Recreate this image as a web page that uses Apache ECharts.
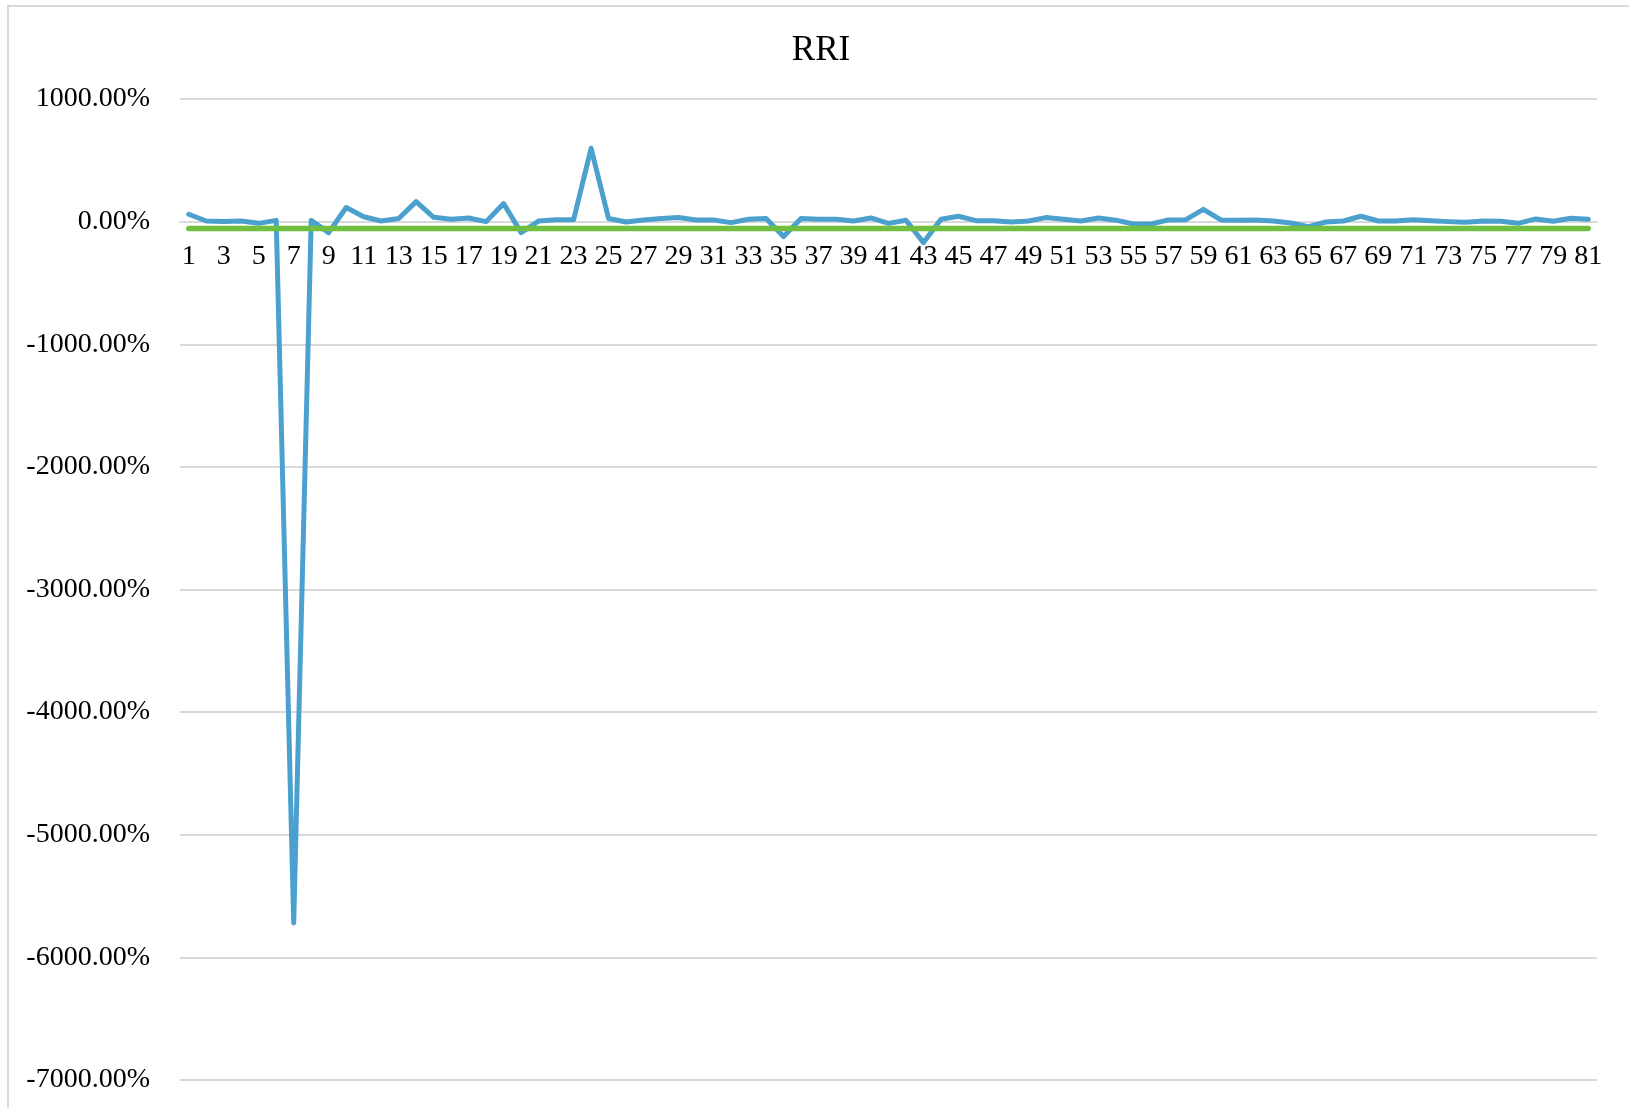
<!DOCTYPE html>
<html>
<head>
<meta charset="utf-8">
<script src="https://cdn.jsdelivr.net/npm/echarts@6/dist/echarts.min.js"></script>
<style>
html,body{margin:0;padding:0;background:#fff;}
#chart{width:1629px;height:1108px;}
</style>
</head>
<body>
<div id="chart"></div>
<script>
const titleText = 'RRI';
const categories = [];
for (let i = 1; i <= 81; i++) categories.push(String(i));

// RRI values in percent
const rriValues = [
  60, 5, 2, 5, -14, 10, -5720, 10, -90, 115,
  40, 5, 25, 163, 35, 19, 30, 0, 147, -90,
  5, 16, 16, 598, 25, -3, 14, 25, 33, 14,
  14, -8, 19, 25, -122, 25, 19, 19, 5, 30,
  -14, 11, -171, 19, 44, 8, 8, -3, 5, 33,
  19, 5, 30, 12, -19, -19, 14, 16, 100, 14,
  11, 14, 5, -11, -41, -3, 5, 44, 5, 5,
  16, 8, 0, -5, 5, 3, -14, 22, 3, 27,
  19
];

// Reference (green) line in percent
const refValues = [
  -57, -57, -57, -57, -57, -57, -57, -57, -57, -57,
  -57, -57, -57, -57, -57, -57, -57, -57, -57, -57,
  -57, -57, -57, -57, -57, -57, -57, -57, -57, -57,
  -57, -57, -57, -57, -57, -57, -57, -57, -57, -57,
  -57, -57, -57, -57, -57, -57, -57, -57, -57, -57,
  -57, -57, -57, -57, -57, -57, -57, -57, -57, -57,
  -57, -57, -57, -57, -57, -57, -57, -57, -57, -57,
  -57, -57, -57, -57, -57, -57, -57, -57, -57, -57,
  -57
];

const yMin = -7000, yMax = 1000, yInterval = 1000;

const gridTop = 99, gridBottom = 28, H = 1108;
const plotH = H - gridTop - gridBottom;
// shift category axis up so it sits on the zero line
const zeroOffset = -plotH * (0 - yMin) / (yMax - yMin);

const chart = echarts.init(document.getElementById('chart'));
const font = '"Liberation Serif", "Times New Roman", serif';
chart.setOption({
  animation: false,
  backgroundColor: '#fff',
  title: {
    text: titleText,
    left: 816, top: 28, textAlign: 'center',
    textStyle: {fontFamily: font, fontSize: 35, fontWeight: 'normal', color: '#000'}
  },
  graphic: [{
    type: 'rect',
    shape: {x: 8, y: 6, width: 1800, height: 1300},
    style: {fill: 'none', stroke: '#d9d9d9', lineWidth: 2},
    silent: true, z: -10
  }],
  grid: {left: 180, right: 32, top: gridTop, bottom: gridBottom, containLabel: false, outerBoundsMode: 'none'},
  xAxis: {
    type: 'category',
    data: categories,
    boundaryGap: true,
    position: 'bottom',
    offset: zeroOffset,
    axisLine: {show: true, onZero: false, lineStyle: {color: '#d9d9d9', width: 2}},
    axisTick: {show: false},
    axisLabel: {interval: 1, fontFamily: font, fontSize: 28, color: '#000', margin: 21},
    splitLine: {show: false}
  },
  yAxis: {
    type: 'value',
    min: yMin, max: yMax, interval: yInterval,
    axisLine: {show: false},
    axisTick: {show: false},
    axisLabel: {fontFamily: font, fontSize: 28, color: '#000', margin: 30,
      formatter: v => v.toFixed(2) + '%'},
    splitLine: {lineStyle: {color: '#d9d9d9', width: 2}}
  },
  series: [{
    type: 'line', data: rriValues, symbol: 'none', smooth: false,
    lineStyle: {color: '#4BA0CD', width: 5, cap: 'round', join: 'round'}
  }, {
    type: 'line', data: refValues, symbol: 'none', smooth: false,
    lineStyle: {color: '#70BF41', width: 5.5, cap: 'round'}
  }]
});
</script>
</body>
</html>
